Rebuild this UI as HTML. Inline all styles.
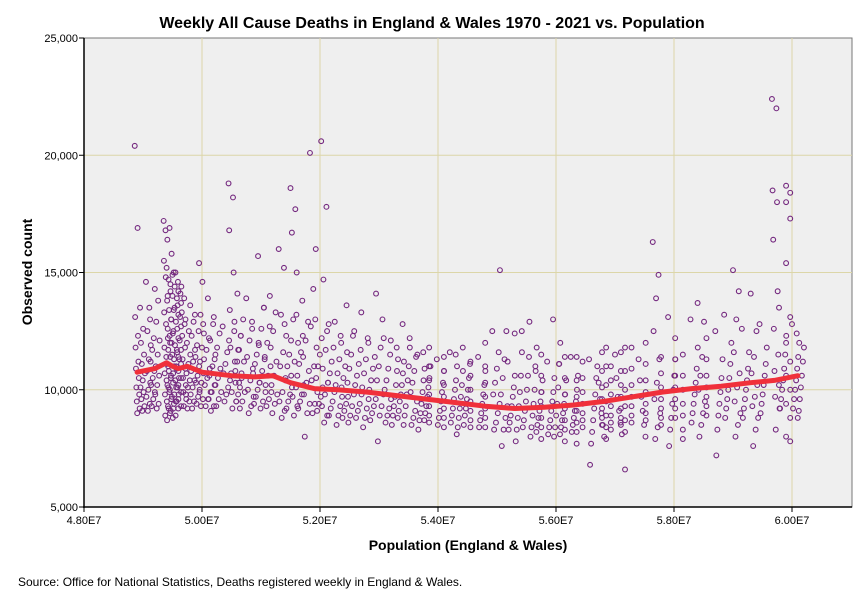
<!DOCTYPE html>
<html><head><meta charset="utf-8"><style>
body{margin:0;background:#fff;width:864px;height:601px;overflow:hidden;font-family:"Liberation Sans",Arial,sans-serif}
</style></head><body>
<svg id="chart" width="864" height="601" xmlns="http://www.w3.org/2000/svg" font-family="Liberation Sans, Arial, sans-serif">
<text x="432" y="28" text-anchor="middle" font-size="16" font-weight="bold">Weekly All Cause Deaths in England &amp; Wales 1970 - 2021 vs. Population</text>
<rect x="84" y="38" width="768" height="469" fill="#efefef" stroke="#777" stroke-width="1"/>
<g id="grid"></g><g id="points"></g><g id="trend"></g><g id="axes"></g>
<text transform="translate(32,272) rotate(-90)" text-anchor="middle" font-size="14" font-weight="bold">Observed count</text>
<text x="468" y="550" text-anchor="middle" font-size="14" font-weight="bold">Population (England &amp; Wales)</text>
<text x="18" y="586" font-size="12">Source: Office for National Statistics, Deaths registered weekly in England &amp; Wales.</text>
</svg>
<script>
// cluster populations (millions) and weekly deaths (thousands)
const clusterPop=[48.86,49.05,49.2,49.35,49.45,49.55,49.65,49.8,49.95,50.1,50.45,50.6,50.75,50.95,51.15,51.3,51.5,51.7,51.83,52.02,52.25,52.45,52.7,52.95,53.2,53.4,53.65,53.85,54.1,54.3,54.55,54.8,55.05,55.3,55.55,55.75,55.95,56.15,56.35,56.56,56.7,56.85,57.0,57.17,57.4,57.64,57.9,58.15,58.4,58.7,59.0,59.3,59.66,59.9,60.08];
const clusterDeaths=[
[20.4,16.9,13.1,12.3,11.8,11.2,10.9,10.5,10.1,9.8,9.5,9.2,9.0],
[14.6,13.5,12.5,11.9,11.3,10.8,10.3,10.0,9.7,9.4,9.1],
[14.3,13.8,12.9,12.1,11.5,11.0,10.6,10.2,9.8,9.4,9.2],
[17.2,16.8,16.4,15.5,14.8,14.0,13.3,12.8,12.2,11.8,11.4,11.0,10.7,10.4,10.1,9.8,9.5,9.2,8.9,8.7],
[16.9,15.8,15.0,14.5,14.0,13.5,13.0,12.5,12.0,11.5,11.0,10.6,10.3,10.0,9.7,9.4,9.1,8.8],
[15.0,14.6,14.1,13.6,13.1,12.6,12.1,11.7,11.3,10.9,10.5,10.1,9.8,9.5,9.2],
[14.4,13.9,13.3,12.8,12.3,11.8,11.3,10.9,10.5,10.2,9.9,9.6,9.3],
[13.6,12.9,12.3,11.7,11.2,10.8,10.4,10.1,9.8,9.5,9.2],
[15.4,14.6,13.2,12.4,11.8,11.2,10.7,10.3,9.9,9.6,9.3],
[13.9,12.8,12.1,11.5,11.0,10.6,10.2,9.9,9.6,9.3,9.1],
[18.8,18.2,16.8,15.0,13.4,12.5,11.8,11.2,10.7,10.3,9.9,9.5,9.2],
[14.1,13.0,12.3,11.7,11.2,10.7,10.3,9.9,9.5,9.2],
[13.9,12.9,12.1,11.4,10.9,10.4,10.0,9.7,9.3,9.0],
[15.7,13.5,12.6,11.9,11.3,10.8,10.3,9.9,9.5,9.2],
[14.0,13.3,12.5,11.8,11.2,10.6,10.2,9.8,9.4,9.0],
[16.0,15.2,13.2,12.3,11.6,11.0,10.4,9.9,9.5,9.1,8.8],
[18.6,17.7,16.7,15.0,13.0,12.0,11.2,10.6,10.1,9.7,9.3,8.9],
[13.8,12.9,12.1,11.4,10.8,10.3,9.8,9.4,9.0,8.0],
[20.1,16.0,14.3,12.7,11.8,11.0,10.4,9.9,9.4,9.0],
[20.6,17.8,14.7,12.8,11.7,10.9,10.3,9.8,9.3,8.9,8.6],
[12.9,12.0,11.3,10.7,10.2,9.7,9.3,8.9,8.5],
[13.6,12.3,11.5,10.9,10.3,9.8,9.3,8.9,8.6],
[13.3,12.2,11.3,10.7,10.1,9.6,9.2,8.8,8.4],
[14.1,13.0,11.8,11.0,10.4,9.8,9.3,8.9,7.8],
[12.1,11.3,10.8,10.2,9.7,9.3,8.9,8.5],
[12.8,11.8,11.0,10.4,9.8,9.3,8.9,8.5],
[11.5,10.9,10.4,9.9,9.4,9.0,8.7,8.3],
[11.8,11.0,10.4,9.8,9.3,8.9,8.6],
[11.4,10.8,10.2,9.7,9.2,8.8,8.4],
[11.5,10.8,10.2,9.7,9.2,8.8,8.4,8.1],
[11.2,10.6,10.0,9.5,9.1,8.7,8.4],
[12.0,11.0,10.3,9.7,9.2,8.8,8.4],
[15.1,12.5,11.3,10.5,9.8,9.3,8.8,8.3,7.6],
[12.4,11.6,10.6,9.9,9.3,8.8,8.3,7.8],
[12.9,11.8,10.8,10.0,9.4,8.9,8.4,8.0],
[11.5,10.6,9.9,9.3,8.8,8.4,7.9],
[13.0,12.0,11.1,10.1,9.4,8.9,8.4,8.0],
[11.4,10.5,9.8,9.2,8.7,8.3,7.8],
[11.4,10.4,9.7,9.1,8.6,8.2,7.7],
[11.3,10.5,9.8,9.2,8.7,8.2,7.7,6.8],
[11.0,10.3,9.6,9.0,8.5,8.0],
[11.8,11.0,10.2,9.5,8.9,8.4,7.9],
[11.5,10.5,9.7,9.1,8.6,8.1],
[11.8,10.8,10.0,9.3,8.7,8.2,6.6],
[11.3,10.4,9.7,9.1,8.5,8.0],
[16.3,14.9,13.9,12.5,11.3,10.3,9.6,9.0,8.4,7.9],
[13.1,11.3,10.6,10.0,9.4,8.8,8.3,7.6],
[11.5,10.6,10.0,9.4,8.9,8.3,7.9],
[13.7,12.9,11.4,10.6,10.0,9.5,9.0,8.5,8.0],
[12.5,11.3,10.5,9.9,9.4,8.9,8.3,7.2],
[15.1,14.2,13.0,11.6,10.7,10.1,9.5,9.0,8.5,8.0],
[14.1,12.5,11.4,10.7,10.2,9.7,9.3,8.8,8.3,7.6],
[22.4,22.0,18.5,18.0,16.4,14.2,12.6,11.5,10.8,10.2,9.7,9.2,8.3],
[18.7,18.4,18.0,17.3,15.4,13.1,12.0,11.2,10.6,10.0,9.4,8.8,8.0,7.8],
[12.4,11.8,11.2,10.6,10.1,9.6,9.1,8.8]];
// second set of clusters (the dense body of weekly values)
const clusterPop2=[48.95,49.12,49.4,49.5,49.6,49.72,49.88,50.02,50.2,50.35,50.55,50.85,51.05,51.4,51.6,51.92,52.12,52.35,52.58,52.82,53.08,53.3,53.52,53.75,53.98,54.2,54.42,54.68,54.92,55.18,55.42,55.65,55.85,56.05,56.25,56.45,56.78,56.93,57.1,57.28,57.52,57.78,58.02,58.28,58.55,58.85,59.15,59.45,59.78,60.0];
const clusterDeaths2=[
[13.5,12.6,12.0,11.5,11.1,10.7,10.4,10.1,9.9,9.6,9.3,9.1],
[13.0,12.2,11.7,11.2,10.8,10.5,10.2,9.9,9.6,9.3],
[15.2,14.7,14.2,13.8,13.4,13.0,12.6,12.3,12.0,11.7,11.4,11.1,10.8,10.5,10.2,9.9,9.6,9.3,9.0],
[14.9,14.4,13.9,13.4,12.9,12.4,11.9,11.6,11.3,11.0,10.7,10.4,10.1,9.8,9.5,9.2,8.9],
[14.2,13.7,13.2,12.7,12.2,11.7,11.4,11.1,10.8,10.5,10.2,9.9,9.6,9.3],
[13.0,12.5,12.0,11.5,11.1,10.7,10.4,10.1,9.8,9.5,9.2],
[13.2,12.5,11.9,11.4,11.0,10.6,10.3,10.0,9.7,9.4],
[12.8,12.2,11.7,11.3,10.9,10.5,10.2,9.9,9.6,9.3],
[13.1,12.4,11.8,11.3,10.9,10.5,10.2,9.9,9.6,9.3],
[12.7,12.1,11.6,11.1,10.7,10.4,10.1,9.8,9.5],
[12.9,12.3,11.7,11.2,10.8,10.5,10.1,9.8,9.5],
[12.6,12.0,11.5,11.1,10.7,10.3,10.0,9.7,9.4],
[13.5,12.7,12.0,11.4,11.0,10.6,10.2,9.9,9.6,9.3],
[12.8,12.1,11.5,11.0,10.5,10.1,9.8,9.5,9.2],
[13.2,12.3,11.6,11.1,10.6,10.2,9.8,9.5,9.2],
[13.0,12.2,11.5,11.0,10.5,10.1,9.7,9.4,9.1],
[12.5,11.8,11.2,10.7,10.3,9.9,9.5,9.2,8.9],
[12.3,11.6,11.0,10.5,10.1,9.7,9.4,9.1,8.8],
[12.5,11.7,11.1,10.6,10.2,9.8,9.4,9.1,8.8],
[12.0,11.4,10.9,10.4,10.0,9.6,9.3,9.0,8.7],
[12.2,11.5,10.9,10.4,10.0,9.6,9.2,8.9,8.6],
[11.8,11.2,10.7,10.2,9.8,9.5,9.1,8.8],
[12.2,11.4,10.8,10.3,9.9,9.5,9.1,8.8,8.5],
[11.6,11.0,10.5,10.1,9.7,9.3,9.0,8.7],
[11.3,10.8,10.3,9.9,9.5,9.1,8.8,8.5],
[11.6,11.0,10.4,10.0,9.6,9.2,8.9,8.6],
[11.8,11.1,10.5,10.0,9.6,9.2,8.9,8.5],
[11.4,10.8,10.2,9.8,9.4,9.0,8.7,8.4],
[12.5,11.6,10.9,10.3,9.8,9.4,9.0,8.6,8.3],
[11.2,10.6,10.1,9.7,9.3,8.9,8.6,8.3],
[12.5,11.4,10.6,10.0,9.5,9.1,8.7,8.4],
[11.0,10.4,9.9,9.5,9.1,8.8,8.5,8.2],
[11.2,10.5,9.9,9.5,9.1,8.7,8.4,8.1],
[11.1,10.4,9.8,9.4,9.0,8.7,8.4,8.1],
[11.4,10.6,10.0,9.5,9.1,8.8,8.5,8.2],
[11.2,10.5,9.9,9.4,9.0,8.7,8.4],
[11.6,10.8,10.1,9.6,9.2,8.8,8.5],
[11.0,10.4,9.8,9.3,8.9,8.6,8.3],
[11.6,10.8,10.2,9.7,9.2,8.8,8.5],
[11.8,10.9,10.2,9.7,9.3,8.9,8.6],
[12.0,11.1,10.4,9.9,9.4,9.0,8.7],
[11.4,10.7,10.1,9.6,9.2,8.8,8.5],
[12.2,11.3,10.6,10.1,9.6,9.2,8.8],
[13.0,11.8,10.9,10.3,9.8,9.4,9.0,8.6],
[12.2,11.3,10.6,10.1,9.7,9.3,8.9],
[13.2,12.0,11.1,10.5,10.0,9.6,9.2,8.8],
[12.6,11.6,10.9,10.4,10.0,9.6,9.2,8.8],
[12.8,11.8,11.1,10.6,10.2,9.8,9.4,9.0],
[13.5,12.3,11.5,10.9,10.4,10.0,9.6,9.2],
[12.8,12.0,11.4,10.9,10.4,10.0,9.6,9.2]];
const trendPop=[48.9,49.2,49.4,49.5,49.6,49.75,50.0,50.5,50.9,51.2,51.5,51.9,52.3,52.8,53.3,53.8,54.3,54.8,55.3,55.8,56.3,56.8,57.3,57.8,58.3,58.8,59.3,59.7,60.1];
const trendDeaths=[10.75,10.9,11.15,11.0,10.9,11.0,10.75,10.6,10.55,10.6,10.3,10.05,10.0,9.9,9.75,9.6,9.45,9.3,9.2,9.25,9.35,9.5,9.7,9.9,10.05,10.15,10.3,10.4,10.6];
const xTicks=[48,50,52,54,56,58,60];
const xTickLabels=["4.80E7","5.00E7","5.20E7","5.40E7","5.60E7","5.80E7","6.00E7"];
const yTicks=[5,10,15,20,25];
const yTickLabels=["5,000","10,000","15,000","20,000","25,000"];

const NS="http://www.w3.org/2000/svg";
const X=p=>84+(p-48)*59;
const Y=d=>507-(d-5)*23.45;
function mk(tag,attrs,parent){const e=document.createElementNS(NS,tag);for(const k in attrs)e.setAttribute(k,attrs[k]);parent.appendChild(e);return e;}
const grid=document.getElementById('grid'),axes=document.getElementById('axes'),pts=document.getElementById('points'),tr=document.getElementById('trend');
xTicks.forEach((t,i)=>{
  if(i>0){const g=mk('line',{x1:X(t),x2:X(t),y1:38,y2:507,stroke:'#dcd6a8','stroke-width':1},grid);
  
  }
  const tk=mk('line',{x1:X(t),x2:X(t),y1:507,y2:512,stroke:'#000'},axes);
  
  
  const l=mk('text',{x:X(t),y:524,'text-anchor':'middle','font-size':11},axes);l.textContent=xTickLabels[i];
  
  
});
yTicks.forEach((t,i)=>{
  if(i>0&&i<yTicks.length-1){const g=mk('line',{x1:84,x2:852,y1:Y(t),y2:Y(t),stroke:'#dcd6a8','stroke-width':1},grid);
  
  }
  const tk=mk('line',{x1:79,x2:84,y1:Y(t),y2:Y(t),stroke:'#000'},axes);
  
  
  const l=mk('text',{x:78,y:Y(t)+4,'text-anchor':'end','font-size':11},axes);l.textContent=yTickLabels[i];
  
  
});
const ax1=mk('line',{x1:84,x2:84,y1:38,y2:508,stroke:'#000','stroke-width':1.5},axes);


const ax2=mk('line',{x1:83,x2:852,y1:507,y2:507,stroke:'#000','stroke-width':1.5},axes);


function drawClusters(pops,deaths){
  pops.forEach((p,c)=>{
    const vals=deaths[c];const n=vals.length;const span=p<50?0.09:0.14;
    vals.forEach((d,i)=>{
      const off=((i*7)%n)/n*span;
      const pt=mk('circle',{cx:X(p+off),cy:Y(d),r:2.4,fill:'none',stroke:'#74287f','stroke-width':1.1},pts);
      
      
    });
  });
}
drawClusters(clusterPop,clusterDeaths);
drawClusters(clusterPop2,clusterDeaths2);
const path=mk('path',{d:trendPop.map((p,i)=>(i?'L':'M')+X(p).toFixed(1)+' '+Y(trendDeaths[i]).toFixed(1)).join(' '),fill:'none',stroke:'#f0303a','stroke-width':5,'stroke-linejoin':'round','stroke-linecap':'round'},tr);


</script>
</body></html>
